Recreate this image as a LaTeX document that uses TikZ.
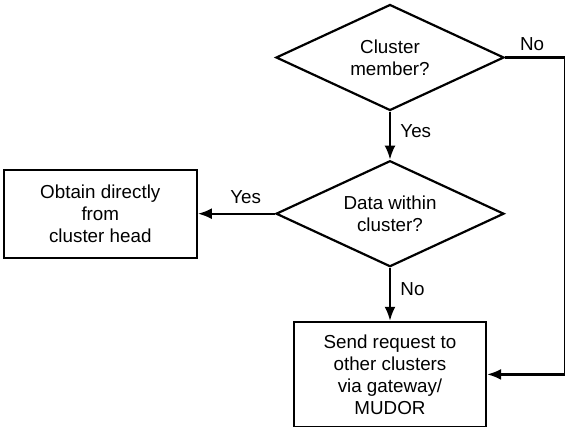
\documentclass[tikz,border=0pt]{standalone}
\usepackage{fontspec}
\setmainfont{Liberation Sans}
\usepackage{tikz}
\usetikzlibrary{shapes.geometric}
\usetikzlibrary{positioning}
\usetikzlibrary{arrows.meta}

\begin{document}
\begin{tikzpicture}[x=1pt,y=1pt,font=\fontsize{18.8}{22}\selectfont]
  \tikzset{
box/.style={draw,
  line width=2.2pt,
    inner sep=0pt,
    align=center},
decision/.style={draw, diamond,
  line width=2.2pt,
    aspect=2.2, inner sep=0pt,
    minimum width=228pt, minimum height=106pt,
    align=center},
flow/.style={-{Latex[length=14pt,width=11pt]}, line width=2.2pt},
}
  \useasboundingbox (0,0) rectangle (565,-426);

  % Nodes
  \node [decision] (member) at (390,-57.5) {Cluster\\member?};
  \node [decision, below=48 of member] (within) {Data within\\cluster?};
  \node [box, left=77 of within, minimum width=193pt, minimum height=88pt] (direct) {Obtain directly\\from\\cluster head};
  \node [box, below=53 of within, minimum width=192pt, minimum height=105pt] (request) {Send request to\\other clusters\\via gateway/\\MUDOR};

  % Edges
  \draw [flow] (member.south) -- (within.north) node [midway,pos=0.4,right=6pt] {Yes};
  \draw [flow] (within.west) -- (direct.east) node [midway,pos=0.38,above=6pt] {Yes};
  \draw [flow] (within.south) -- (request.north) node [midway,pos=0.4,right=6pt] {No};
  % No-branch with right-angle corners
  \draw [flow] (member.east) -- node[pos=0.45,above=2pt] {No} ++(60,0) |- (request.east);
\end{tikzpicture}
\end{document}
